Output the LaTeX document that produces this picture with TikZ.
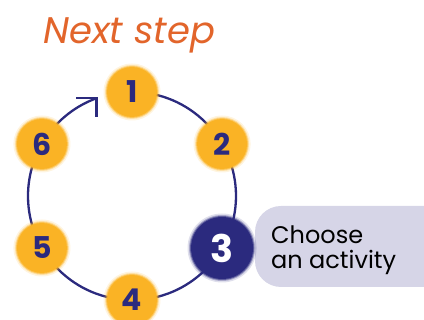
\documentclass[tikz,border=0pt]{standalone}
\usepackage{fontspec}
\setmainfont{Poppins}
\usetikzlibrary{calc}
\definecolor{navy}{HTML}{2B2A7E}
\definecolor{sun}{HTML}{FAB325}
\definecolor{lav}{HTML}{D6D5E7}
\definecolor{tang}{HTML}{E2652B}
\newcommand\blob[3]{%
  \fill[#2,opacity=.15] (#1) circle[radius=#3+3.5];
  \fill[#2,opacity=.3] (#1) circle[radius=#3+2];
  \fill[#2,opacity=.6] (#1) circle[radius=#3+1];
  \fill[#2] (#1) circle[radius=#3];}
\tikzset{
  ring/.style={draw=navy,line width=2.3pt},
  digit/.style={text=navy,font=\fontsize{30}{30}\selectfont\bfseries,inner sep=0pt},
  callout/.style={fill=lav,rounded corners=26pt},
}
\begin{document}
\begin{tikzpicture}[x=1pt,y=1pt]
\useasboundingbox (0,0) rectangle (424,320);
\coordinate (c) at (132,124);
\draw[ring] (c) ++(450:104) arc[start angle=450,end angle=110,radius=104] coordinate (tip);
\coordinate (bl) at ($(tip)+(-20,0)$);
\coordinate (bd) at ($(tip)+(0,-19)$);
\draw[ring] (bl) -- (tip) -- (bd);
\fill[callout] (255,33) rectangle (460,114);
\node[anchor=west,align=left,inner sep=0pt,font=\fontsize{24}{25}\selectfont] (txt) at (271,70) {Choose\\an activity};
\coordinate (p1) at ($(c)+(90:104)$);
\coordinate (p2) at ($(c)+(30:104)$);
\coordinate (p3) at ($(c)+(-30:104)$);
\coordinate (p4) at ($(c)+(-90:104)$);
\coordinate (p5) at ($(c)+(-150:104)$);
\coordinate (p6) at ($(c)+(150:104)$);
\blob{p1}{sun}{25}
\blob{p2}{sun}{25}
\blob{p4}{sun}{25}
\blob{p5}{sun}{25}
\blob{p6}{sun}{25}
\blob{p3}{navy}{31}
\node[digit] (n1) at (p1) {1};
\node[digit] (n2) at (p2) {2};
\node[digit,text=white,font=\fontsize{38}{38}\selectfont\bfseries] (n3) at (p3) {3};
\node[digit] (n4) at (p4) {4};
\node[digit] (n5) at (p5) {5};
\node[digit] (n6) at (p6) {6};
\node[anchor=base west,inner sep=0pt,text=tang,font=\fontsize{37}{37}\selectfont\itshape] (title) at (43,276) {Next step};
\end{tikzpicture}
\end{document}
